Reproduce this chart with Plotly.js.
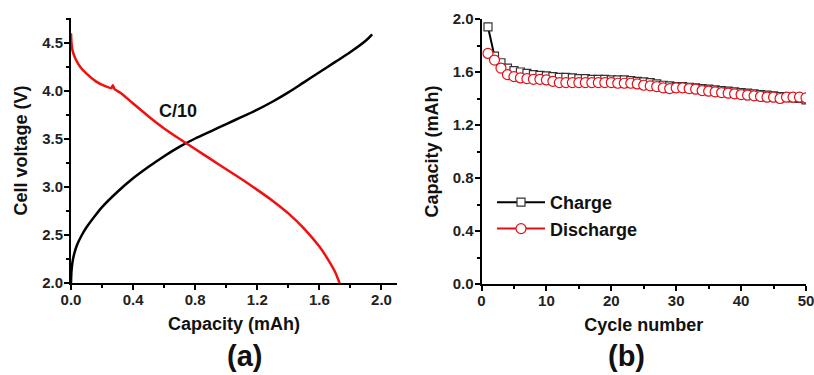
<!DOCTYPE html>
<html>
<head>
<meta charset="utf-8">
<script src="https://cdn.plot.ly/plotly-3.0.1.min.js"></script>
<style>html,body{margin:0;padding:0;background:#fff;}#chart{width:814px;height:375px;}</style>
</head>
<body>
<div id="chart"></div>
<script>
// Panel (a): voltage profiles at C/10
const chargeCapA = [0, 0.003, 0.01, 0.02, 0.04, 0.07, 0.1, 0.15, 0.2, 0.3, 0.4, 0.5, 0.6, 0.7, 0.8, 0.9, 1.0, 1.1, 1.2, 1.3, 1.4, 1.5, 1.6, 1.7, 1.8, 1.9, 1.94];
const chargeVoltA = [2.0, 2.12, 2.22, 2.3, 2.4, 2.5, 2.58, 2.69, 2.79, 2.95, 3.09, 3.21, 3.32, 3.42, 3.505, 3.58, 3.655, 3.73, 3.805, 3.89, 3.985, 4.09, 4.195, 4.30, 4.405, 4.525, 4.59];
const dischargeCapA = [0, 0.003, 0.01, 0.03, 0.06, 0.1, 0.16, 0.22, 0.26, 0.27, 0.28, 0.32, 0.4, 0.5, 0.6, 0.7, 0.8, 0.9, 1.0, 1.1, 1.2, 1.3, 1.4, 1.5, 1.6, 1.65, 1.7, 1.73];
const dischargeVoltA = [4.6, 4.5, 4.42, 4.33, 4.25, 4.18, 4.10, 4.05, 4.03, 4.06, 4.02, 3.98, 3.87, 3.735, 3.61, 3.50, 3.395, 3.29, 3.185, 3.08, 2.97, 2.855, 2.725, 2.57, 2.38, 2.26, 2.12, 2.0];

// Panel (b): cycling
const cycles = [1,2,3,4,5,6,7,8,9,10,11,12,13,14,15,16,17,18,19,20,21,22,23,24,25,26,27,28,29,30,31,32,33,34,35,36,37,38,39,40,41,42,43,44,45,46,47,48,49,50];
const chargeCapB = [1.94,1.72,1.67,1.63,1.61,1.60,1.59,1.58,1.575,1.57,1.565,1.56,1.56,1.555,1.55,1.55,1.545,1.545,1.545,1.54,1.54,1.54,1.535,1.53,1.525,1.52,1.51,1.50,1.495,1.49,1.49,1.485,1.48,1.475,1.47,1.465,1.46,1.455,1.45,1.445,1.44,1.435,1.43,1.425,1.42,1.415,1.41,1.405,1.40,1.39];
const dischargeCapB = [1.74,1.69,1.63,1.58,1.565,1.555,1.55,1.545,1.545,1.54,1.53,1.52,1.52,1.52,1.52,1.52,1.52,1.52,1.52,1.52,1.515,1.515,1.515,1.51,1.50,1.495,1.49,1.48,1.475,1.48,1.48,1.475,1.47,1.46,1.455,1.45,1.445,1.44,1.435,1.43,1.425,1.42,1.415,1.41,1.41,1.40,1.41,1.41,1.41,1.405];

const xTicksA = [0, 0.4, 0.8, 1.2, 1.6, 2.0];
const xTickTextA = ['0.0','0.4','0.8','1.2','1.6','2.0'];
const yTicksA = [2.0, 2.5, 3.0, 3.5, 4.0, 4.5];
const yTickTextA = ['2.0','2.5','3.0','3.5','4.0','4.5'];
const xTicksB = [0, 10, 20, 30, 40, 50];
const yTicksB = [0, 0.4, 0.8, 1.2, 1.6, 2.0];
const yTickTextB = ['0.0','0.4','0.8','1.2','1.6','2.0'];

const W = 814, H = 375;
const FONT = 'Liberation Sans, Arial, sans-serif';
const px = v => v / W;
const py = v => 1 - v / H;

const traces = [
  {x: chargeCapA, y: chargeVoltA, xaxis: 'x', yaxis: 'y', mode: 'lines', line: {color: '#000', width: 2.5, shape: 'spline', smoothing: 0.8}, showlegend: false, name: 'Charge (a)'},
  {x: dischargeCapA, y: dischargeVoltA, xaxis: 'x', yaxis: 'y', mode: 'lines', line: {color: '#f01010', width: 2.5, shape: 'spline', smoothing: 0.6}, showlegend: false, name: 'Discharge (a)'},
  {x: cycles, y: chargeCapB, xaxis: 'x2', yaxis: 'y2', mode: 'lines+markers', name: 'Charge',
   line: {color: '#000', width: 2}, marker: {symbol: 'square', size: 8, color: '#fff', line: {color: '#333', width: 1.2}}},
  {x: cycles, y: dischargeCapB, xaxis: 'x2', yaxis: 'y2', mode: 'lines+markers', name: 'Discharge',
   line: {color: '#e0101a', width: 2}, marker: {symbol: 'circle', size: 10, color: '#fff', line: {color: '#e0101a', width: 1.2}}}
];

const axisCommon = {
  showline: true, linecolor: '#000', linewidth: 2, mirror: false,
  ticks: 'outside', ticklen: 5, tickwidth: 2, tickcolor: '#000',
  showgrid: false, zeroline: false, fixedrange: true, ticklabeloverflow: 'allow',
  tickfont: {family: FONT, size: 15, color: '#222', weight: 'bold'}
};
const titleFont = {family: FONT, size: 18, color: '#111', weight: 'bold'};
const minorTick = {ticks: 'outside', ticklen: 3, tickwidth: 2, tickcolor: '#000'};

const layout = {
  width: W, height: H, autosize: false,
  margin: {l: 0, r: 0, t: 0, b: 0},
  paper_bgcolor: '#fff', plot_bgcolor: '#fff',
  showlegend: true,
  legend: {x: px(492), y: py(184), xanchor: 'left', yanchor: 'top', bgcolor: 'rgba(0,0,0,0)',
    font: {family: FONT, size: 18, color: '#111', weight: 'bold'}, itemwidth: 48, tracegroupgap: 0},
  xaxis: Object.assign({}, axisCommon, {
    domain: [px(71), px(397)], range: [0, 2.1], anchor: 'y',
    tickvals: xTicksA, ticktext: xTickTextA, ticklabelstandoff: -3,
    minor: Object.assign({dtick: 0.2, tick0: 0}, minorTick),
    title: {text: 'Capacity (mAh)', font: titleFont, standoff: 10}
  }),
  yaxis: Object.assign({}, axisCommon, {
    domain: [py(283), py(18)], range: [2.0, 4.76], anchor: 'x',
    tickvals: yTicksA, ticktext: yTickTextA, ticklabelstandoff: -2,
    minor: Object.assign({dtick: 0.25, tick0: 2.0}, minorTick),
    title: {text: 'Cell voltage (V)', font: titleFont, standoff: 10}
  }),
  xaxis2: Object.assign({}, axisCommon, {
    domain: [px(481.5), px(806)], range: [0, 50], anchor: 'y2',
    tickvals: xTicksB, ticklabelstandoff: -3,
    minor: Object.assign({dtick: 5, tick0: 0}, minorTick),
    title: {text: 'Cycle number', font: titleFont, standoff: 10}
  }),
  yaxis2: Object.assign({}, axisCommon, {
    domain: [py(284), py(19)], range: [0, 2.0], anchor: 'x2',
    tickvals: yTicksB, ticktext: yTickTextB, ticklabelstandoff: -2,
    minor: Object.assign({dtick: 0.2, tick0: 0}, minorTick),
    title: {text: 'Capacity (mAh)', font: titleFont, standoff: 9}
  }),
  annotations: [
    {text: 'C/10', x: 0.687, y: 3.79, xref: 'x', yref: 'y', showarrow: false,
     font: {family: FONT, size: 18, color: '#111', weight: 'bold'}},
    {text: '(a)', x: px(225), y: py(374), xref: 'paper', yref: 'paper', yanchor: 'bottom', showarrow: false,
     font: {family: FONT, size: 29, color: '#111', weight: 'bold'}},
    {text: '(b)', x: px(647), y: py(374), xref: 'paper', yref: 'paper', yanchor: 'bottom', showarrow: false,
     font: {family: FONT, size: 29, color: '#111', weight: 'bold'}}
  ]
};

Plotly.newPlot('chart', traces, layout, {displayModeBar: false, staticPlot: true});
</script>
</body>
</html>
